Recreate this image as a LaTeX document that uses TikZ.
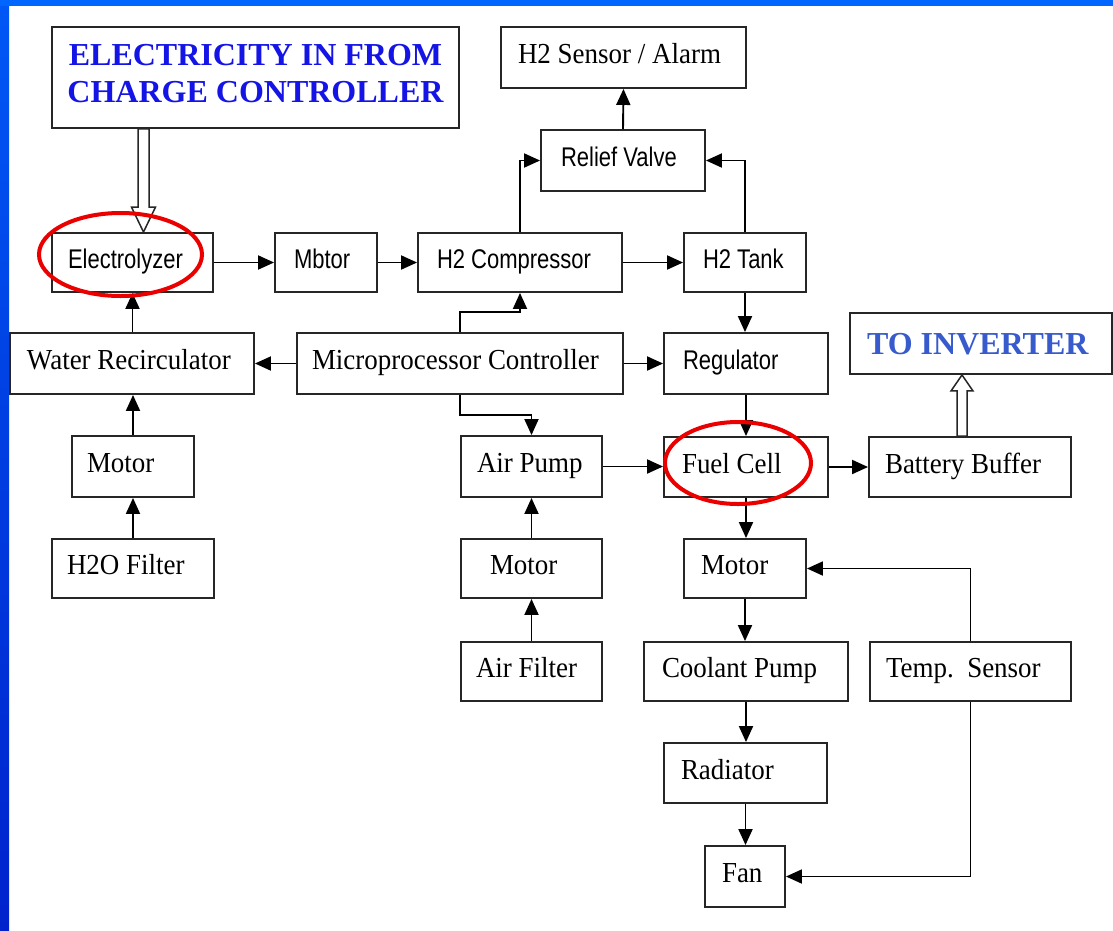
\documentclass[tikz,border=0pt]{standalone}
\usepackage{fontspec}
\setmainfont{Liberation Serif}
\newfontfamily\boxsans[FakeStretch=0.815]{Liberation Sans}
\newfontfamily\boxserif[FakeStretch=0.93]{Liberation Serif}
\newfontfamily\titleserif{Liberation Serif}
\usetikzlibrary{arrows.meta,calc}
\definecolor{ringred}{RGB}{235,0,0}
\definecolor{titleblue}{RGB}{20,20,230}
\definecolor{invblue}{RGB}{55,90,205}
\definecolor{frametop}{RGB}{0,102,255}
\definecolor{frameleftA}{RGB}{0,88,245}
\definecolor{frameleftB}{RGB}{0,34,204}
\tikzset{
  box/.style={draw=black!85, line width=1.9pt, inner ysep=0pt, text height=19pt, text depth=7pt},
  sans/.style={font=\boxsans\fontsize{27}{32}\selectfont},
  serif/.style={font=\boxserif\fontsize{29}{34}\selectfont},
  bluebold/.style={font=\titleserif\bfseries\fontsize{32}{37}\selectfont, text=invblue, text height=21pt, text depth=0pt},
  conn/.style={line width=1.9pt, draw=black, -{Triangle[length=16pt,width=14pt]}},
  hollow/.style={line width=1.5pt, draw=black!85, fill=white, line join=miter},
  ring/.style={draw=ringred, line width=4pt}
}
\newcommand\mkbox[8]{%
  \pgfmathsetmacro\bxw{#4-#2}%
  \pgfmathsetmacro\bxh{#5-#3}%
  \pgfmathsetmacro\bxt{#4-#2-2*#6}%
  \pgfmathsetmacro\bxcx{(#2+#4)/2}%
  \pgfmathsetmacro\bxcy{(#3+#5)/2}%
  \node[box,#7,minimum width=\bxw pt,minimum height=\bxh pt,inner xsep=#6pt] (#1) at (\bxcx,\bxcy) {\makebox[\bxt pt][l]{#8}};%
}
\begin{document}
\begin{tikzpicture}[x=1pt,y=-1pt]
\useasboundingbox (0,0) rectangle (1113,930);
\fill[white] (0,0) rectangle (1113,930);
\shade[top color=frameleftA, bottom color=frameleftB] (0,0) rectangle (9,930);
\fill[frametop] (0,0) rectangle (1113,6);

% boxes
\node[draw=black!85, line width=1.9pt, minimum width=407pt, minimum height=101pt, inner sep=0pt,
      align=center, font=\titleserif\bfseries\fontsize{32}{37}\selectfont, text=titleblue, text depth=9pt]
      (elecin) at (255.5,77.5) {ELECTRICITY IN FROM\\CHARGE CONTROLLER};
\mkbox{sensor}{501}{27}{746}{88}{17}{serif}{H2 Sensor / Alarm}
\mkbox{relief}{541}{130}{705}{191}{20}{sans}{Relief Valve}
\mkbox{electro}{52}{233}{213}{292}{16}{sans}{Electrolyzer}
\mkbox{mbtor}{275}{233}{377}{292}{19}{sans}{Mbtor}
\mkbox{comp}{418}{233}{622}{292}{19}{sans}{H2 Compressor}
\mkbox{tank}{684}{233}{806}{292}{19}{sans}{H2 Tank}
\mkbox{water}{10}{333}{254}{394}{17}{serif}{Water Recirculator}
\mkbox{micro}{297}{333}{623}{394}{15}{serif}{Microprocessor Controller}
\mkbox{reg}{664}{333}{828}{394}{19}{sans}{Regulator}
\mkbox{inverter}{850}{313}{1112}{374}{17}{bluebold}{TO INVERTER}
\mkbox{motorL}{72}{436}{194}{497}{15}{serif}{Motor}
\mkbox{airpump}{461}{436}{602}{497}{16}{serif}{Air Pump}
\mkbox{fuel}{664}{437}{828}{497}{18}{serif}{Fuel Cell}
\mkbox{battery}{869}{437}{1071}{497}{16}{serif}{Battery Buffer}
\mkbox{h2o}{52}{539}{214}{598}{15}{serif}{H2O Filter}
\mkbox{motorM}{461}{539}{602}{598}{29}{serif}{Motor}
\mkbox{motorR}{684}{539}{806}{598}{17}{serif}{Motor}
\mkbox{airfilter}{461}{642}{602}{701}{15}{serif}{Air Filter}
\mkbox{coolant}{644}{642}{848}{701}{18}{serif}{Coolant Pump}
\mkbox{temp}{870}{642}{1071}{701}{16}{serif}{Temp.\ \ Sensor}
\mkbox{radiator}{664}{743}{827}{803}{17}{serif}{Radiator}
\mkbox{fan}{705}{846}{785}{907}{17}{serif}{Fan}

% hollow power arrows
\coordinate (eA) at ($(elecin.south)+(-112,0)$);
\coordinate (eB) at ($(electro.north)+(11,0)$);
\draw[hollow] ($(eA)+(-5.5,0)$) -- ($(eB)+(-5.5,-25)$) -- ($(eB)+(-12,-25)$) -- (eB)
   -- ($(eB)+(12,-25)$) -- ($(eB)+(5.5,-25)$) -- ($(eA)+(5.5,0)$) -- cycle;
\coordinate (bA) at ($(battery.north)+(-8,0)$);
\coordinate (bB) at ($(inverter.south)+(-19,0)$);
\draw[hollow] ($(bA)+(-5,0)$) -- ($(bB)+(-5,16)$) -- ($(bB)+(-11,16)$) -- (bB)
   -- ($(bB)+(11,16)$) -- ($(bB)+(5,16)$) -- ($(bA)+(5,0)$) -- cycle;

% connectors
\draw[conn] (electro.east) -- (mbtor.west);
\draw[conn] (mbtor.east) -- (comp.west);
\draw[conn] (comp.east) -- (tank.west);
\draw[conn] (comp.north) |- (relief.west);
\draw[conn] (tank.north) |- (relief.east);
\draw[conn] (relief.north) -- (sensor.south);
\draw[conn] (water.north -| electro.south) -- (electro.south);
\draw[conn] (motorL.north) -- (motorL.north |- water.south);
\draw[conn] (h2o.north) -- (h2o.north |- motorL.south);
\draw[conn] (micro.west) -- (water.east);
\draw[conn] (micro.north) -- ++(0,-20) -| (comp.south);
\draw[conn] (micro.south) -- ++(0,20) -| (airpump.north);
\draw[conn] (micro.east) -- (reg.west);
\draw[conn] (tank.south) -- (tank.south |- reg.north);
\draw[conn] (reg.south) -- (reg.south |- fuel.north);
\draw[conn] (airpump.east) -- (airpump.east -| fuel.west);
\draw[conn] (fuel.east) -- (battery.west);
\draw[conn] (fuel.south) -- (fuel.south |- motorR.north);
\draw[conn] (temp.north) |- (motorR.east);
\draw[conn] (airfilter.north) -- (motorM.south);
\draw[conn] (motorM.north) -- (airpump.south);
\draw[conn] (motorR.south) -- (motorR.south |- coolant.north);
\draw[conn] (coolant.south) -- (coolant.south |- radiator.north);
\draw[conn] (radiator.south) -- (radiator.south |- fan.north);
\draw[conn] (temp.south) |- (fan.east);

% red highlight rings
\draw[ring] ($(electro.center)+(-12,-8)$) ellipse [x radius=81.5pt, y radius=41.5pt];
\draw[ring] ($(fuel.center)+(-8,-4)$) ellipse [x radius=73pt, y radius=41pt];
\end{tikzpicture}
\end{document}
